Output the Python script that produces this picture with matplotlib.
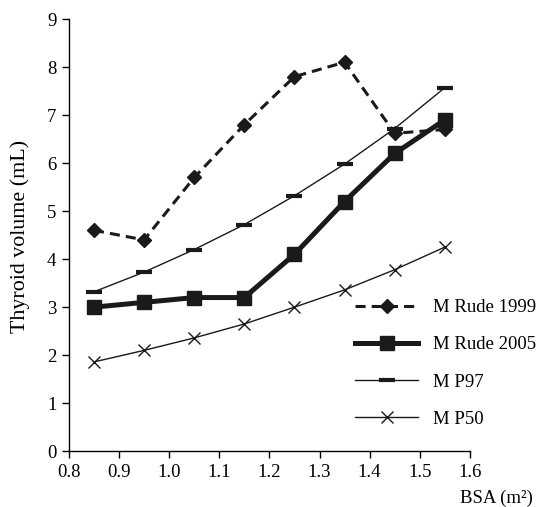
import matplotlib
matplotlib.use("Agg")
import matplotlib.pyplot as plt

bsa = [0.85, 0.95, 1.05, 1.15, 1.25, 1.35, 1.45, 1.55]
rude_1999 = [4.6, 4.4, 5.7, 6.8, 7.8, 8.1, 6.62, 6.7]
rude_2005 = [3.0, 3.1, 3.2, 3.2, 4.1, 5.2, 6.2, 6.9]
p97 = [3.32, 3.73, 4.2, 4.72, 5.32, 5.98, 6.72, 7.57]
p50 = [1.86, 2.1, 2.36, 2.65, 3.0, 3.36, 3.78, 4.25]
labels = ["M Rude 1999", "M Rude 2005", "M P97", "M P50"]
xticks = [0.8, 0.9, 1.0, 1.1, 1.2, 1.3, 1.4, 1.5, 1.6]
yticks = list(range(0, 10))

plt.rcParams['font.family'] = ['Liberation Serif', 'DejaVu Serif']
plt.rcParams['font.size'] = 13

fig = plt.figure(figsize=(5.47, 5.07), dpi=100)
ax = fig.add_axes([0.126, 0.110, 0.733, 0.8525])
c = '#1a1a1a'
ax.plot(bsa, rude_1999, color=c, lw=2.2, ls=(0, (3.3, 2.0)), marker='D', ms=7, label=labels[0])
ax.plot(bsa, rude_2005, color=c, lw=3.6, marker='s', ms=9.5, label=labels[1])
ax.plot(bsa, p97, color=c, lw=1.0, marker='_', ms=11, mew=3, label=labels[2])
ax.plot(bsa, p50, color=c, lw=1.0, marker='x', ms=8.5, mew=1.0, label=labels[3])

ax.set_xlim(0.8, 1.6)
ax.set_ylim(0, 9)
ax.set_xticks(xticks)
ax.set_xticklabels([f"{t:.1f}" for t in xticks])
ax.set_yticks(yticks)
for s in ['top', 'right']:
    ax.spines[s].set_visible(False)
for s in ['left', 'bottom']:
    ax.spines[s].set_linewidth(1.0)
ax.tick_params(direction='out', length=5, width=1, labelsize=13.5, pad=4)

fig.text(0.037, 0.534, "Thyroid volume (mL)", rotation=90, ha='center', va='center', fontsize=15.8)
fig.text(0.974, 0.018, "BSA (m²)", ha='right', va='center', fontsize=13.5)

fig.legend(loc='upper left', bbox_to_anchor=(0.649, 0.410), frameon=False,
           handlelength=3.36, labelspacing=1.07, handletextpad=0.8, borderpad=0,
           borderaxespad=0, fontsize=13.5)

fig.savefig("out.png", dpi=100)
